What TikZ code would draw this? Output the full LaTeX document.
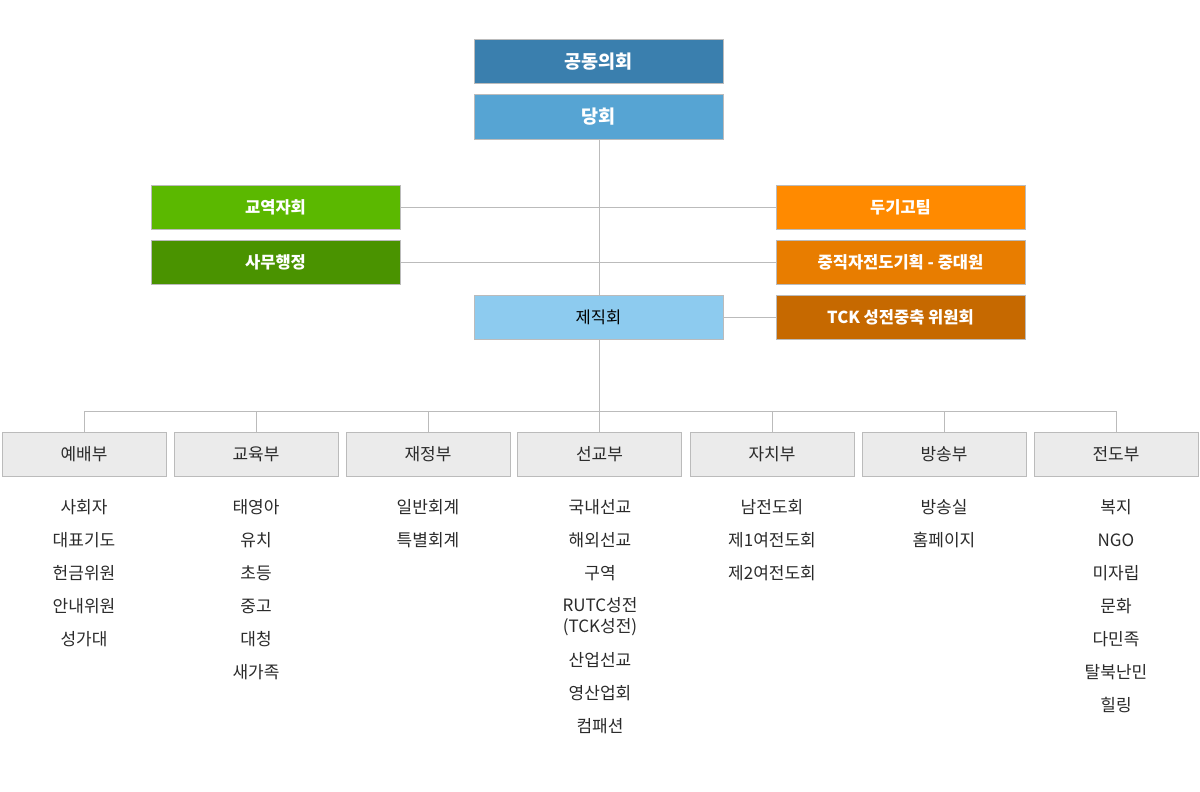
\documentclass[tikz,border=0pt]{standalone}
\usepackage{fontspec}
\setmainfont{Noto Sans CJK KR}
\usetikzlibrary{backgrounds}
\definecolor{cA}{HTML}{3A7FAE}
\definecolor{cB}{HTML}{56A4D3}
\definecolor{cC}{HTML}{8DCBEF}
\definecolor{gA}{HTML}{5BB800}
\definecolor{gB}{HTML}{4A9300}
\definecolor{oA}{HTML}{FF8A00}
\definecolor{oB}{HTML}{E87D00}
\definecolor{oC}{HTML}{C66900}
\definecolor{bd}{HTML}{BBBBBB}
\definecolor{hd}{HTML}{EBEBEB}
\definecolor{tx}{HTML}{2A2A2A}
\tikzset{
  topbox/.style={rectangle, draw=bd, line width=1pt, minimum width=249pt, minimum height=44pt, inner sep=0pt, text=white, font=\bfseries\fontsize{18.5}{20}\selectfont},
  midbox/.style={rectangle, draw=bd, line width=1pt, minimum width=249pt, minimum height=44pt, inner sep=0pt, text=white, font=\bfseries\fontsize{16.5}{18}\selectfont},
  headbox/.style={rectangle, draw=bd, line width=1pt, fill=hd, minimum width=164pt, minimum height=44pt, inner sep=0pt, text=tx, font=\fontsize{17}{19}\selectfont},
  item/.style={inner sep=0pt, text=tx, font=\fontsize{17}{19}\selectfont, align=center},
  conn/.style={draw=bd, line width=1pt}
}
\begin{document}
\begin{tikzpicture}[x=1pt,y=-1pt]
\useasboundingbox (0,0) rectangle (1200,792);
\node[topbox, fill=cA] (gong) at (598.5,62) {공동의회};
\node[topbox, fill=cB] (dang) at (598.5,117) {당회};
\node[midbox, fill=gA] (gyo) at (275.5,207) {교역자회};
\node[midbox, fill=gB] (samu) at (275.5,262) {사무행정};
\node[midbox, fill=oA] (dugi) at (900.5,207) {두기고팀};
\node[midbox, fill=oB] (jung) at (900.5,262) {중직자전도기획 - 중대원};
\node[midbox, fill=oC] (tck) at (900.5,317) {TCK 성전중축 위원회};
\node[midbox, fill=cC, text=black, font=\fontsize{16.5}{18}\selectfont] (jejik) at (598.5,317) {제직회};
\coordinate (hub) at (599.5,411);
\node[headbox] (d1) at (84,454) {예배부};
\node[headbox] (d2) at (256,454) {교육부};
\node[headbox] (d3) at (428,454) {재정부};
\node[headbox] (d4) at (599.5,454) {선교부};
\node[headbox] (d5) at (772,454) {자치부};
\node[headbox] (d6) at (944,454) {방송부};
\node[headbox] (d7) at (1116,454) {전도부};
\begin{scope}[on background layer]
\draw[conn] (dang.south -| hub) -- (hub);
\draw[conn] (gyo.east) -- (dugi.west);
\draw[conn] (samu.east) -- (jung.west);
\draw[conn] (jejik.east) -- (tck.west);
\draw[conn] (d1.north |- hub) -- (d7.north |- hub);
\foreach \d in {d1,d2,d3,d4,d5,d6,d7} \draw[conn] (\d.north) -- (\d.north |- hub);
\end{scope}
\foreach \t [count=\i] in {사회자,대표기도,헌금위원,안내위원,성가대}
  \node[item] (a\i) at (84,{507+33*(\i-1)}) {\t};
\foreach \t [count=\i] in {태영아,유치,초등,중고,대청,새가족}
  \node[item] (b\i) at (256,{507+33*(\i-1)}) {\t};
\foreach \t [count=\i] in {일반회계,특별회계}
  \node[item] (c\i) at (428,{507+33*(\i-1)}) {\t};
\node[item] (e1) at (600,507) {국내선교};
\node[item] (e2) at (600,540) {해외선교};
\node[item] (e3) at (600,573) {구역};
\node[item, font=\fontsize{17}{21}\selectfont] (e4) at (600,616.5) {RUTC성전\\(TCK성전)};
\node[item] (e5) at (600,660) {산업선교};
\node[item] (e6) at (600,693) {영산업회};
\node[item] (e7) at (600,726) {컴패션};
\foreach \t [count=\i] in {남전도회,제1여전도회,제2여전도회}
  \node[item] (f\i) at (772,{507+33*(\i-1)}) {\t};
\foreach \t [count=\i] in {방송실,홈페이지}
  \node[item] (g\i) at (944,{507+33*(\i-1)}) {\t};
\foreach \t [count=\i] in {복지,NGO,미자립,문화,다민족,탈북난민,힐링}
  \node[item] (h\i) at (1116,{507+33*(\i-1)}) {\t};
\end{tikzpicture}
\end{document}
